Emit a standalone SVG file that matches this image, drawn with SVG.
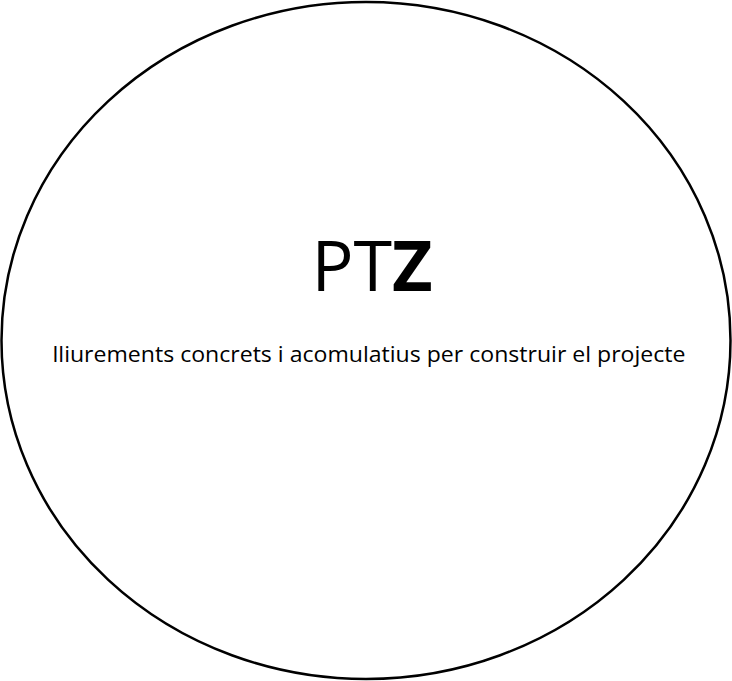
<svg xmlns="http://www.w3.org/2000/svg" width="732" height="681" viewBox="0 0 732 681">
<style>
.t{font-family:"Open Sans","Liberation Sans",sans-serif;fill:#000}
</style>
<rect width="732" height="681" fill="#fff"/>
<g id="node-ptz">
<ellipse cx="366" cy="340.5" rx="364.5" ry="338.5" fill="#fff" stroke="#000" stroke-width="2.5"/>
<text class="t" x="372" y="291" font-size="70" text-anchor="middle">PT<tspan font-weight="bold">Z</tspan></text>
<text class="t" x="369" y="362" font-size="21" text-anchor="middle" textLength="633" lengthAdjust="spacingAndGlyphs">lliurements concrets i acomulatius per construir el projecte</text>
</g>
</svg>
